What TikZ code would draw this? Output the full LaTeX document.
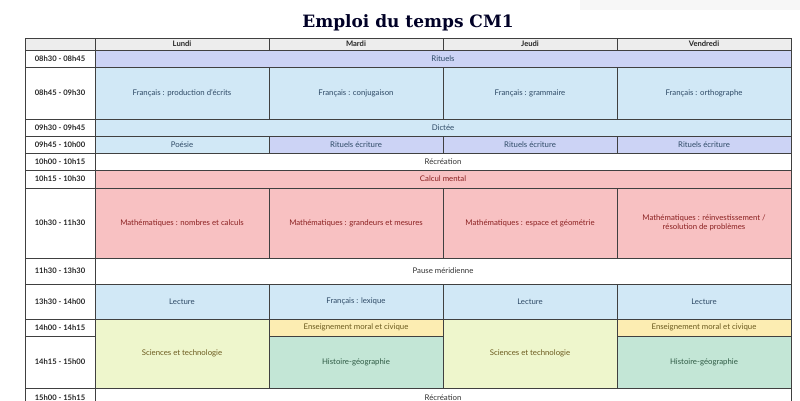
\documentclass[tikz,border=0pt]{standalone}
\usepackage{fontspec}
\setmainfont{Lato}
\newfontfamily\titlefont{DejaVu Serif}
\begin{document}
\begin{tikzpicture}[x=1pt,y=-1pt,
  cell/.style={draw=black!75,line width=0.8pt,inner sep=0pt,font=\fontsize{7.8}{9.5}\selectfont,align=center},
  tm/.style={cell,fill=white,font=\fontsize{7.6}{9}\selectfont\bfseries,text=black!85,minimum width=70},
  hd/.style={cell,fill=black!7,font=\fontsize{7.6}{9}\selectfont\bfseries,text=black!85,minimum width=174},
  one/.style={minimum width=174},
  all/.style={minimum width=696},
  lav/.style={cell,fill=lavC,text=txB},
  blu/.style={cell,fill=bluC,text=txB},
  wht/.style={cell,fill=white,text=black!80},
  pnk/.style={cell,fill=pnkC,text=txR},
  yel/.style={cell,fill=yelC,text=txY},
  grn/.style={cell,fill=grnC,text=txY},
  his/.style={cell,fill=hisC,text=txG}]
\definecolor{lavC}{HTML}{CCD3F5}
\definecolor{bluC}{HTML}{D1E8F6}
\definecolor{pnkC}{HTML}{F8C1C2}
\definecolor{yelC}{HTML}{FCEDB2}
\definecolor{grnC}{HTML}{EEF6CC}
\definecolor{hisC}{HTML}{C3E6D6}
\definecolor{txB}{HTML}{2E4A66}
\definecolor{txR}{HTML}{8A2020}
\definecolor{txY}{HTML}{6B5A1E}
\definecolor{txG}{HTML}{2E5A44}
\useasboundingbox (0,0) rectangle (800,400);
\fill[white] (0,0) rectangle (800,400);
\fill[black!3] (580,0) rectangle (800,10);
\node[font=\titlefont\bfseries\fontsize{17}{19}\selectfont,text=black!85!blue] (title) at (408,23) {Emploi du temps CM1};
% header
\node[cell,fill=black!7,minimum width=70,minimum height=12] (h0) at (60,44) {};
\node[hd,minimum height=12] (h1) at (182,44) {Lundi};
\node[hd,minimum height=12] (h2) at (356,44) {Mardi};
\node[hd,minimum height=12] (h3) at (530,44) {Jeudi};
\node[hd,minimum height=12] (h4) at (704,44) {Vendredi};
% times
\node[tm,minimum height=17] (t1) at (60,58.5) {08h30 - 08h45};
\node[tm,minimum height=52] (t2) at (60,93) {08h45 - 09h30};
\node[tm,minimum height=17] (t3) at (60,127.5) {09h30 - 09h45};
\node[tm,minimum height=17] (t4) at (60,144.5) {09h45 - 10h00};
\node[tm,minimum height=17] (t5) at (60,161.5) {10h00 - 10h15};
\node[tm,minimum height=18] (t6) at (60,179) {10h15 - 10h30};
\node[tm,minimum height=70] (t7) at (60,223) {10h30 - 11h30};
\node[tm,minimum height=26] (t8) at (60,271) {11h30 - 13h30};
\node[tm,minimum height=35] (t9) at (60,301.5) {13h30 - 14h00};
\node[tm,minimum height=17] (t10) at (60,327.5) {14h00 - 14h15};
\node[tm,minimum height=52] (t11) at (60,362) {14h15 - 15h00};
\node[tm,minimum height=20] (t12) at (60,398) {15h00 - 15h15};
% rows
\node[lav,all,minimum height=17] (r1) at (443,58.5) {Rituels};
\node[blu,one,minimum height=52] (a1) at (182,93) {Français : production d'écrits};
\node[blu,one,minimum height=52] (a2) at (356,93) {Français : conjugaison};
\node[blu,one,minimum height=52] (a3) at (530,93) {Français : grammaire};
\node[blu,one,minimum height=52] (a4) at (704,93) {Français : orthographe};
\node[blu,all,minimum height=17] (r3) at (443,127.5) {Dictée};
\node[blu,one,minimum height=17] (b1) at (182,144.5) {Poésie};
\node[lav,one,minimum height=17] (b2) at (356,144.5) {Rituels écriture};
\node[lav,one,minimum height=17] (b3) at (530,144.5) {Rituels écriture};
\node[lav,one,minimum height=17] (b4) at (704,144.5) {Rituels écriture};
\node[wht,all,minimum height=17] (r5) at (443,161.5) {Récréation};
\node[pnk,all,minimum height=18] (r6) at (443,179) {Calcul mental};
\node[pnk,one,minimum height=70] (c1) at (182,223) {Mathématiques : nombres et calculs};
\node[pnk,one,minimum height=70] (c2) at (356,223) {Mathématiques : grandeurs et mesures};
\node[pnk,one,minimum height=70] (c3) at (530,223) {Mathématiques : espace et géométrie};
\node[pnk,one,minimum height=70] (c4) at (704,223) {Mathématiques : réinvestissement /\\résolution de problèmes};
\node[wht,all,minimum height=26] (r8) at (443,271) {Pause méridienne};
\node[blu,one,minimum height=35] (d1) at (182,301.5) {Lecture};
\node[blu,one,minimum height=35] (d2) at (356,301.5) {Français : lexique};
\node[blu,one,minimum height=35] (d3) at (530,301.5) {Lecture};
\node[blu,one,minimum height=35] (d4) at (704,301.5) {Lecture};
\node[grn,one,minimum height=69] (e1) at (182,353.5) {Sciences et technologie};
\node[yel,one,minimum height=17] (e2) at (356,327.5) {Enseignement moral et civique};
\node[grn,one,minimum height=69] (e3) at (530,353.5) {Sciences et technologie};
\node[yel,one,minimum height=17] (e4) at (704,327.5) {Enseignement moral et civique};
\node[his,one,minimum height=52] (f2) at (356,362) {Histoire-géographie};
\node[his,one,minimum height=52] (f4) at (704,362) {Histoire-géographie};
\node[wht,all,minimum height=20] (r12) at (443,398) {Récréation};
\end{tikzpicture}
\end{document}
